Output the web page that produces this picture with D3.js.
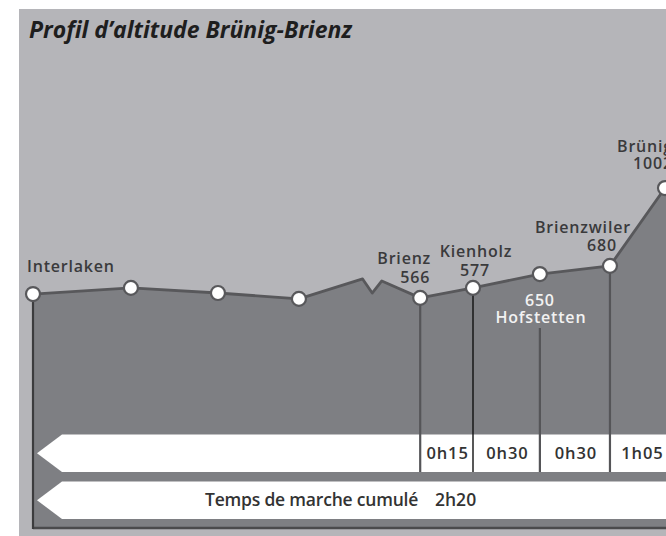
<!DOCTYPE html>
<html>
<head>
<meta charset="utf-8">
<script src="https://cdn.jsdelivr.net/npm/d3@7"></script>
<style>
  body { margin: 0; background: #fff; }
  svg { display: block; }
  text { font-family: "Open Sans", sans-serif; }
</style>
</head>
<body>
<script>
'use strict';

(function() {

  // profile points along the route (km from Interlaken, drawn altitude in m)
  const profileKm  = [0, 3.06, 5.78, 8.31, 10.3, 10.6, 10.9, 12.1, 13.75, 15.84, 18.03, 19.75];
  const profileAlt = [578, 602, 582, 559, 637, 582, 629, 563, 602, 656, 688, 992];

  // which profile points get a white dot
  const dotIndex = [0, 1, 2, 3, 7, 8, 9, 10, 11];

  // named stations
  const stationNames = ["Interlaken", "Brienz", "Kienholz", "Hofstetten", "Brienzwiler", "Brünig"];
  const stationAlt   = ["", "566", "577", "650", "680", "1002"];
  const stationKm    = [0, 12.1, 13.75, 15.84, 18.03, 19.75];

  // walking time for each leg, from Brienz onward
  const legTimes  = ["0h15", "0h30", "0h30", "1h05"];
  const totalTime = "2h20";

  const title = "Profil d\u2019altitude  Brünig-Brienz";

  let svgContainer = "";
  let xScale = null;
  let yScale = null;
  const floorY = 528;  // bottom of the dark ground
  const bar1 = { top: 434.5, bottom: 472 };
  const bar2 = { top: 481.5, bottom: 519 };

  window.onload = function() {
    svgContainer = d3.select('body')
      .append('svg')
      .attr('width', 666)
      .attr('height', 536);

    makeScales();
    drawBackground();
    drawGround();
    drawBars();
    drawStationLines();
    drawProfile();
    makeLabels();
  }

  function makeScales() {
    xScale = d3.scaleLinear().domain([0, 20]).range([33, 673]);
    yScale = d3.scaleLinear().domain([500, 1000]).range([314, 186]);
  }

  function drawBackground() {
    svgContainer.append('rect')
      .attr('x', 19).attr('y', 9)
      .attr('width', 700).attr('height', 560)
      .attr('fill', '#b5b5b9');
  }

  // dark area under the profile
  function drawGround() {
    let pts = profileKm.map((k, i) => [xScale(k), yScale(profileAlt[i])]);
    pts.push([700, yScale(profileAlt[profileAlt.length - 1]) - 40]);
    let area = d3.area()
      .x(d => d[0])
      .y0(floorY)
      .y1(d => d[1]);
    svgContainer.append('path')
      .attr('d', area(pts))
      .attr('fill', '#7e7f83');

    // floor line
    svgContainer.append('line')
      .attr('x1', xScale(0)).attr('x2', 700)
      .attr('y1', floorY).attr('y2', floorY)
      .attr('stroke', '#4a4a4c')
      .attr('stroke-width', 2.5);
  }

  // white arrow bars with walking times
  function drawBars() {
    let arrow = function(b) {
      let mid = (b.top + b.bottom) / 2;
      return 'M62,' + b.top + 'L37,' + mid + 'L62,' + b.bottom +
             'L700,' + b.bottom + 'L700,' + b.top + 'Z';
    };
    [bar1, bar2].forEach(b => {
      svgContainer.append('path')
        .attr('d', arrow(b))
        .attr('fill', '#ffffff');
    });

    // leg times, centered between consecutive stations
    let legStart = stationKm.slice(1, stationKm.length - 1);
    let legEnd = stationKm.slice(2);
    legTimes.forEach((t, i) => {
      let x0 = xScale(legStart[i]);
      let x1 = i === legTimes.length - 1 ? xScale(legEnd[i]) + 8 : xScale(legEnd[i]);
      svgContainer.append('text')
        .attr('x', (x0 + x1) / 2 + 1)
        .attr('y', 459)
        .attr('text-anchor', 'middle')
        .style('font-size', '16.5px')
        .style('font-weight', 600)
        .style('letter-spacing', '0.9px')
        .attr('fill', '#333')
        .text(t);
    });

    svgContainer.append('text')
      .attr('x', 205)
      .attr('y', 506)
      .style('font-size', '17.5px')
      .style('font-weight', 600)
      .style('letter-spacing', '-0.2px')
      .attr('fill', '#333')
      .text('Temps de marche cumulé');

    svgContainer.append('text')
      .attr('x', 435)
      .attr('y', 506)
      .style('font-size', '17.5px')
      .style('font-weight', 600)
      .attr('fill', '#333')
      .text(totalTime);
  }

  // vertical drop lines under the stations
  function drawStationLines() {
    // Interlaken goes all the way to the floor
    svgContainer.append('line')
      .attr('x1', xScale(0)).attr('x2', xScale(0))
      .attr('y1', yScale(profileAlt[0])).attr('y2', floorY + 1)
      .attr('stroke', '#3c3c3e')
      .attr('stroke-width', 2.2);

    let stationY = [null, yScale(profileAlt[7]), yScale(profileAlt[8]), 328, yScale(profileAlt[10])];
    let stroke = [null, '#555558', '#111111', '#555558', '#555558'];
    let width = [null, 2.2, 1.4, 2.2, 2.2];
    for (let i = 1; i < 5; i++) {
      svgContainer.append('line')
        .attr('x1', xScale(stationKm[i])).attr('x2', xScale(stationKm[i]))
        .attr('y1', stationY[i]).attr('y2', bar1.bottom)
        .attr('stroke', stroke[i])
        .attr('stroke-width', width[i]);
    }
  }

  function drawProfile() {
    let line = d3.line()
      .x((d, i) => xScale(profileKm[i]))
      .y(d => yScale(d));
    svgContainer.append('path')
      .attr('d', line(profileAlt))
      .attr('fill', 'none')
      .attr('stroke', '#58585b')
      .attr('stroke-width', 2.8)
      .attr('stroke-linejoin', 'round');

    svgContainer.selectAll('.dot')
      .data(dotIndex)
      .enter()
      .append('circle')
        .attr('class', 'dot')
        .attr('cx', i => xScale(profileKm[i]))
        .attr('cy', i => yScale(profileAlt[i]))
        .attr('r', 7)
        .attr('fill', '#ffffff')
        .attr('stroke', '#58585b')
        .attr('stroke-width', 2.2);
  }

  // title and station labels
  function makeLabels() {
    svgContainer.append('text')
      .attr('x', 29)
      .attr('y', 38)
      .style('font-size', '23px')
      .style('font-weight', 700)
      .style('font-style', 'italic')
      .style('letter-spacing', '0px')
      .attr('fill', '#1e1e1e')
      .text(title);

    // label placement for each station: [dx name, y name, dx alt, y alt, anchor, color]
    const place = [
      [-6, 272, 0, 0, 'start', '#3a3a3c'],
      [-16, 264, -5, 283, 'middle', '#3a3a3c'],
      [3, 257, 2, 276, 'middle', '#3a3a3c'],
      [1, 323, 0, 306, 'middle', '#f2f2f2'],
      [-27, 233, -8, 251, 'middle', '#3a3a3c'],
      [-20, 152, -12, 169, 'middle', '#3a3a3c']
    ];
    stationNames.forEach((name, i) => {
      let x = xScale(stationKm[i]);
      let p = place[i];
      let g = svgContainer.append('g')
        .attr('fill', p[5])
        .attr('text-anchor', p[4])
        .style('font-size', '16px')
        .style('font-weight', 600)
        .style('letter-spacing', '0.8px');
      g.append('text').attr('x', x + p[0]).attr('y', p[1]).text(name);
      if (stationAlt[i] !== "") {
        g.append('text').attr('x', x + p[2]).attr('y', p[3]).text(stationAlt[i]);
      }
    });
  }

})();
</script>
</body>
</html>
